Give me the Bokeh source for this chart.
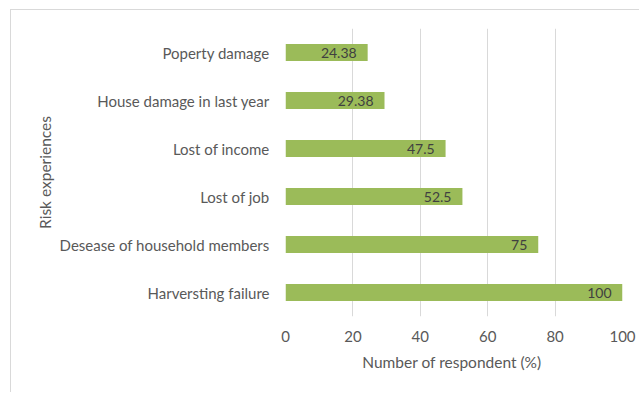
from bokeh.plotting import figure
from bokeh.models import ColumnDataSource, FixedTicker, FactorRange, Range1d
from bokeh.core.properties import value
from bokeh.embed import file_html
from bokeh.resources import INLINE

categories = ["Harversting failure", "Desease of household members", "Lost of job",
              "Lost of income", "House damage in last year", "Poperty damage"]
values = [100, 75, 52.5, 47.5, 29.38, 24.38]
labels = ["100", "75", "52.5", "47.5", "29.38", "24.38"]
x_ticks = [0, 20, 40, 60, 80, 100]

FONT = "Lato"
GREY = "#595959"

src = ColumnDataSource(dict(cat=categories, val=values, lab=labels))

OX, OY = 11, 10
p = figure(width=640 - OX, height=393 - OY, output_backend="svg", toolbar_location=None,
           y_range=FactorRange(*categories, range_padding=0), x_range=Range1d(0, 100),
           min_border_left=285 - OX, min_border_right=18, min_border_top=28 - OY,
           min_border_bottom=77)
p.margin = (OY - 1, 0, 0, OX - 1)
p.styles = {"border-top": "1px solid #d9d9d9", "border-left": "1px solid #d9d9d9"}
p.outline_line_color = None
p.background_fill_color = "white"
p.border_fill_color = "white"

p.hbar(y="cat", right="val", left=0, height=0.35, source=src,
       fill_color="#9BBB59", line_color=None)
p.text(x="val", y="cat", text="lab", source=src, text_align="right", text_baseline="middle",
       x_offset=-11, text_font=value(FONT), text_font_size="14px", text_color="#404040")

p.xaxis.ticker = FixedTicker(ticks=x_ticks)
p.xaxis.axis_label = "Number  of respondent (%)"
p.yaxis.axis_label = "Risk experiences"
for ax in (p.xaxis, p.yaxis):
    ax.axis_line_color = None
    ax.major_tick_line_color = None
    ax.minor_tick_line_color = None
    ax.major_label_text_font = FONT
    ax.major_label_text_font_size = "15px"
    ax.major_label_text_color = GREY
    ax.axis_label_text_font = FONT
    ax.axis_label_text_font_size = "15.5px"
    ax.axis_label_text_color = GREY
    ax.axis_label_text_font_style = "normal"
p.xaxis.major_label_standoff = 8
p.xaxis.axis_label_standoff = 8
p.yaxis.major_label_standoff = 10
p.yaxis.axis_label_standoff = 3

p.xgrid.grid_line_color = "#d9d9d9"
p.ygrid.grid_line_color = None

open("out.html", "w").write(file_html(p, INLINE))
